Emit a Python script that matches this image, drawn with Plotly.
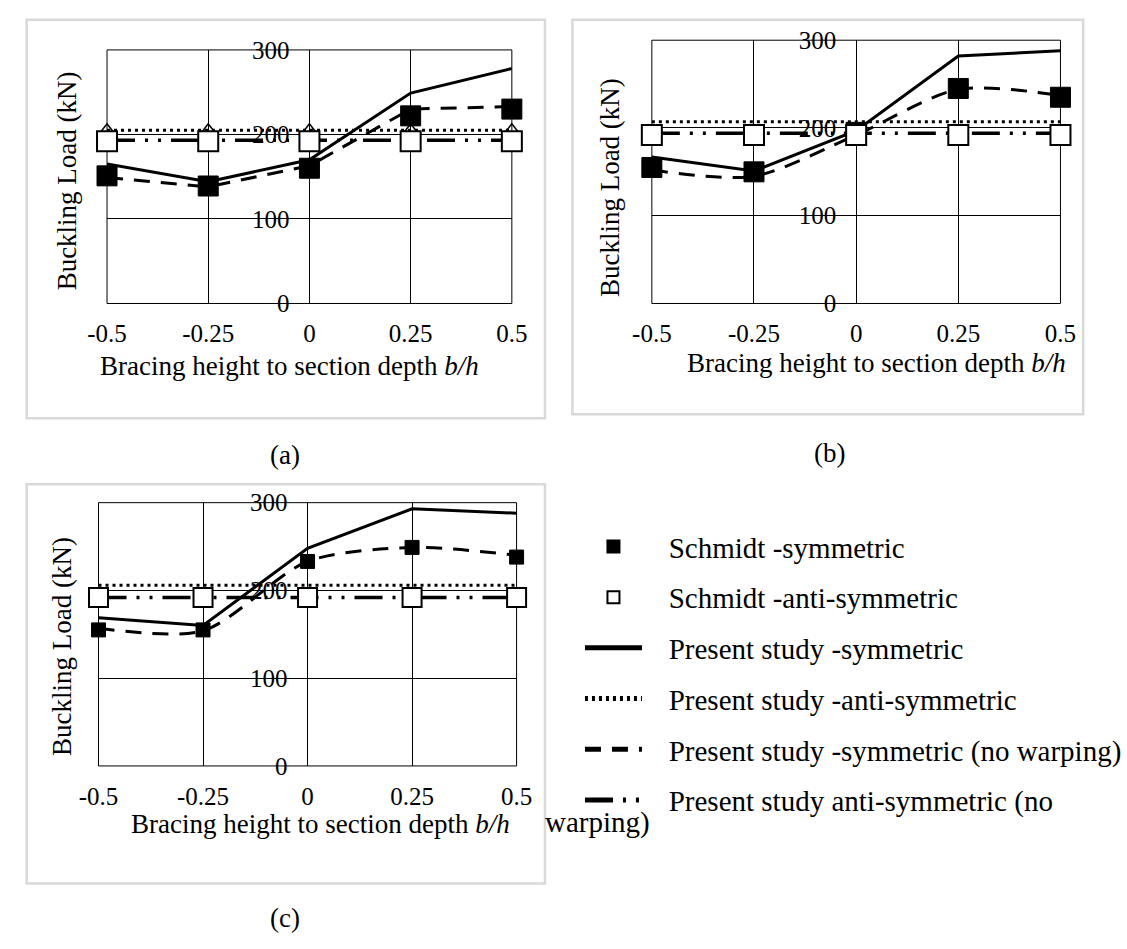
import plotly.graph_objects as go

# ---------------- data ----------------
bh = [-0.5, -0.25, 0, 0.25, 0.5]
x_tick_text = ["-0.5", "-0.25", "0", "0.25", "0.5"]
y_ticks = [0, 100, 200, 300]

# panel (a)
schmidt_sym_a = [151, 139, 160, 222, 230]
schmidt_anti_a = [192, 192, 192, 192, 192]
present_sym_a = [165, 144, 170, 249, 278]
present_anti_a = [205, 205, 205, 205, 205]
present_sym_nw_a = [149, 138, 163, 230, 233]
present_anti_nw_a = [193, 193, 193, 193, 193]

# panel (b)
schmidt_sym_b = [155, 150, 195, 245, 235]
schmidt_anti_b = [192, 192, 192, 192, 192]
present_sym_b = [167, 151, 197, 282, 288]
present_anti_b = [207, 207, 207, 207, 207]
present_sym_nw_b = [152, 145, 192, 244, 237]
present_anti_nw_b = [194, 194, 194, 194, 194]

# panel (c)
schmidt_sym_c = [155, 155, 233, 249, 238]
schmidt_anti_c = [192, 192, 192, 192, 192]
present_sym_c = [169, 160, 248, 293, 288]
present_anti_c = [206, 206, 206, 206, 206]
present_sym_nw_c = [157, 154, 233, 249, 240]
present_anti_nw_c = [192, 192, 192, 192, 192]

PAD = "\u00a0\u00a0\u00a0"
names = {
    "ss": PAD + "Schmidt -symmetric",
    "sa": PAD + "Schmidt -anti-symmetric",
    "ps": PAD + "Present study -symmetric",
    "pa": PAD + "Present study -anti-symmetric",
    "psn": PAD + "Present study -symmetric (no warping)",
    "pan": PAD + "Present study anti-symmetric (no",
}

# ---------------- layout helpers ----------------
W, H = 1127, 949
FONT = "Liberation Serif"


def fx(p):
    return p / W


def fy(p):
    return 1 - p / H


panels = [
    dict(key="a", xs="x", ys="y", xd=(92, 520), yd=(38, 299),
         data=(schmidt_sym_a, schmidt_anti_a, present_sym_a, present_anti_a, present_sym_nw_a, present_anti_nw_a),
         fsq=20, osq=20, tri=True, spline=False, legend=True),
    dict(key="b", xs="x2", ys="y2", xd=(668, 1100), yd=(28, 299),
         data=(schmidt_sym_b, schmidt_anti_b, present_sym_b, present_anti_b, present_sym_nw_b, present_anti_nw_b),
         fsq=20, osq=20, tri=False, spline=True, legend=False),
    dict(key="c", xs="x3", ys="y3", xd=(83, 525), yd=(504, 775),
         data=(schmidt_sym_c, schmidt_anti_c, present_sym_c, present_anti_c, present_sym_nw_c, present_anti_nw_c),
         fsq=14, osq=19, tri=False, spline=True, legend=False),
]

fig = go.Figure()

for p in panels:
    ss, sa, ps, pa, psn, pan = p["data"]
    common = dict(xaxis=p["xs"], yaxis=p["ys"], cliponaxis=False)
    lg = p["legend"]
    fig.add_trace(go.Scatter(x=bh, y=ps, mode="lines", name=names["ps"], legendgroup="ps", legendrank=3,
                             showlegend=lg, line=dict(color="black", width=3), **common))
    fig.add_trace(go.Scatter(x=bh, y=pa, mode="lines", name=names["pa"], legendgroup="pa", legendrank=4,
                             showlegend=lg, line=dict(color="black", width=3, dash="3px,4px"), **common))
    fig.add_trace(go.Scatter(x=bh, y=psn, mode="lines", name=names["psn"], legendgroup="psn", legendrank=5,
                             showlegend=lg,
                             line=dict(color="black", width=3, dash="16px,11px",
                                       shape="spline" if p["spline"] else "linear", smoothing=0.8),
                             **common))
    fig.add_trace(go.Scatter(x=bh, y=pan, mode="lines", name=names["pan"], legendgroup="pan", legendrank=6,
                             showlegend=lg,
                             line=dict(color="black", width=3.5, dash="28px,10px,3px,10px,3px,10px"), **common))
    if p["tri"]:
        fig.add_trace(go.Scatter(x=bh, y=pa, mode="markers", showlegend=False, legendgroup="pa",
                                 marker=dict(symbol="triangle-up-open", size=13, color="black",
                                             line=dict(width=1.5, color="black")), **common))
    fig.add_trace(go.Scatter(x=bh, y=ss, mode="markers", name=names["ss"], legendgroup="ss", legendrank=1,
                             showlegend=lg,
                             marker=dict(symbol="square", size=p["fsq"], color="black",
                                         line=dict(width=1, color="black")), **common))
    fig.add_trace(go.Scatter(x=bh, y=sa, mode="markers", name=names["sa"], legendgroup="sa", legendrank=2,
                             showlegend=lg,
                             marker=dict(symbol="square", size=p["osq"], color="white",
                                         line=dict(width=2, color="black")), **common))

layout = dict(
    width=W, height=H,
    margin=dict(l=0, r=0, t=0, b=0),
    paper_bgcolor="white", plot_bgcolor="white",
    font=dict(family=FONT, color="black"),
    showlegend=True,
    legend=dict(x=fx(592), y=fy(523), xanchor="left", yanchor="top",
                font=dict(family=FONT, size=29, color="black"),
                bgcolor="rgba(0,0,0,0)", borderwidth=0,
                tracegroupgap=10, itemsizing="constant", itemwidth=57,
                traceorder="grouped"),
    shapes=[], annotations=[],
)

for i, p in enumerate(panels):
    sfx = "" if i == 0 else str(i + 1)
    xd = [fx(p["xd"][0]), fx(p["xd"][1])]
    yd = [fy(p["yd"][1]), fy(p["yd"][0])]
    layout["xaxis" + sfx] = dict(
        domain=xd, anchor=p["ys"], range=[-0.5, 0.5],
        tickvals=bh, ticktext=x_tick_text, ticks="",
        showgrid=True, gridcolor="black", gridwidth=1, zeroline=False, showline=False,
        tickfont=dict(family=FONT, size=25, color="black"), ticklabelstandoff=13,
    )
    layout["yaxis" + sfx] = dict(
        domain=yd, anchor="free", position=(xd[0] + xd[1]) / 2, range=[0, 300],
        tickvals=y_ticks, ticks="",
        showgrid=True, gridcolor="black", gridwidth=1, zeroline=False, showline=False,
        tickfont=dict(family=FONT, size=25, color="black"), ticklabelstandoff=20,
    )
    # plot-area frame
    layout["shapes"].append(dict(type="rect", xref=p["xs"] + " domain", yref=p["ys"] + " domain",
                                 x0=0, x1=1, y0=0, y1=1, line=dict(color="black", width=1), layer="below"))

# chart-area frames (light grey)
for (x0, y0, x1, y1) in [(7, 7, 555, 417), (584, 7, 1124, 413), (7, 485, 555, 896)]:
    layout["shapes"].append(dict(type="rect", xref="paper", yref="paper",
                                 x0=fx(x0), x1=fx(x1), y0=fy(y1), y1=fy(y0),
                                 line=dict(color="#d9d9d9", width=2.5), layer="below"))

ytitle = "Buckling Load (kN)"
xtitle = "Bracing height to section depth <i>b/h</i>"
for (x, y) in [(50, 173), (624, 180), (45, 652)]:
    layout["annotations"].append(dict(text=ytitle, x=fx(x), y=fy(y), xref="paper", yref="paper",
                                      textangle=-90, showarrow=False, xanchor="center", yanchor="middle",
                                      font=dict(family=FONT, size=27, color="black")))
for (x, y) in [(285, 363), (905, 360), (318, 835)]:
    layout["annotations"].append(dict(text=xtitle, x=fx(x), y=fy(y), xref="paper", yref="paper",
                                      showarrow=False, xanchor="center", yanchor="middle",
                                      font=dict(family=FONT, size=27, color="black")))
for (t, x, y) in [("(a)", 280, 455), ("(b)", 856, 453), ("(c)", 280, 932)]:
    layout["annotations"].append(dict(text=t, x=fx(x), y=fy(y), xref="paper", yref="paper",
                                      showarrow=False, xanchor="center", yanchor="middle",
                                      font=dict(family=FONT, size=27, color="black")))
layout["annotations"].append(dict(text="warping)", x=fx(553), y=fy(833), xref="paper", yref="paper",
                                  showarrow=False, xanchor="left", yanchor="middle",
                                  font=dict(family=FONT, size=29, color="black")))

fig.update_layout(**layout)
fig.write_html("out.html")
